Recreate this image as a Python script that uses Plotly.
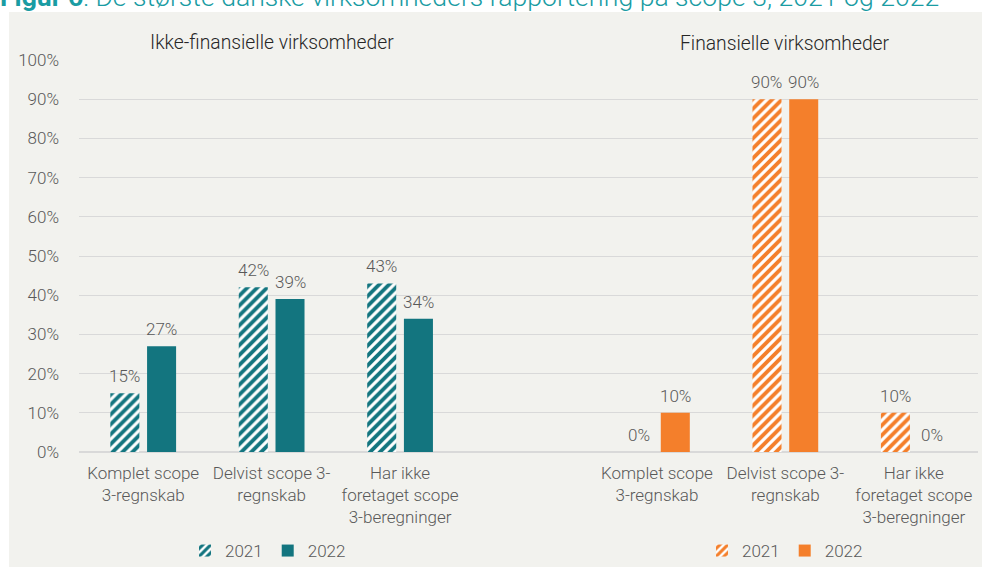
import plotly.graph_objects as go

categories = ["Komplet scope<br>3-regnskab", "Delvist scope 3-<br>regnskab", "Har ikke<br>foretaget scope<br>3-beregninger"]
years = ["2021", "2022"]
nonfin_2021 = [15, 42, 43]
nonfin_2022 = [27, 39, 34]
fin_2021 = [0, 90, 10]
fin_2022 = [10, 90, 0]
group_titles = ["Ikke-finansielle virksomheder", "Finansielle virksomheder"]
title = "<b>Figur 6</b>: De største danske virksomheders rapportering på scope 3, 2021 og 2022"
y_ticks = list(range(0, 101, 10))

TEAL = "#13757f"
ORANGE = "#f47f2b"
GRAY = "#595959"
PANEL = "#f2f2ee"
FONT = "Roboto"
FS = 17

n = len(categories)
x_left = list(range(n))
x_right = [i + n + 1 for i in range(n)]

W = 0.226
OFF21 = -0.256
OFF22 = 0.03

fig = go.Figure()
annotations = []

def add(xs, vals, color, patterned, legend, name):
    marker = dict(color=color, line=dict(width=0))
    if patterned:
        marker["pattern"] = dict(shape="/", fgcolor=color, bgcolor="white", size=7,
                                 solidity=0.55, fillmode="replace", fgopacity=1)
    off = OFF21 if patterned else OFF22
    fig.add_trace(go.Bar(
        x=xs, y=vals, name=name, legend=legend,
        width=W, offset=off, marker=marker,
    ))
    for xv, v in zip(xs, vals):
        annotations.append(dict(
            text=f"{v}%", x=xv + off + W / 2, y=v, xref="x", yref="y",
            xanchor="center", yanchor="bottom", yshift=5, showarrow=False,
            font=dict(family=FONT, size=FS, color=GRAY, weight=300)))

add(x_left, nonfin_2021, TEAL, True, "legend", years[0])
add(x_left, nonfin_2022, TEAL, False, "legend", years[1])
add(x_right, fin_2021, ORANGE, True, "legend2", years[0])
add(x_right, fin_2022, ORANGE, False, "legend2", years[1])

legend_common = dict(orientation="h", yanchor="middle", xanchor="center", y=1 - (551 - 60) / 392,
                     font=dict(family=FONT, size=FS, color=GRAY, weight=300),
                     bgcolor="rgba(0,0,0,0)", itemwidth=30, traceorder="normal")

annotations += [
    dict(text=title, xref="paper", yref="paper", x=(-2 - 79) / 899, y=1 + (60 - 14) / 392,
         xanchor="left", yanchor="bottom", showarrow=False,
         font=dict(family=FONT, size=26.6, color="#1a9ca3", weight=300)),
    dict(text=group_titles[0], xref="x", yref="paper", x=(x_left[0] + x_left[-1]) / 2, y=1 + (60 - 42) / 392,
         xanchor="center", yanchor="middle", showarrow=False,
         font=dict(family=FONT, size=19.3, color="#262626", weight=300)),
    dict(text=group_titles[1], xref="x", yref="paper", x=(x_right[0] + x_right[-1]) / 2, y=1 + (60 - 43) / 392,
         xanchor="center", yanchor="middle", showarrow=False,
         font=dict(family=FONT, size=19.3, color="#262626", weight=300)),
]

fig.update_layout(
    width=982, height=567,
    margin=dict(l=79, r=4, t=60, b=115, autoexpand=False),
    paper_bgcolor="white", plot_bgcolor=PANEL,
    barmode="overlay",
    showlegend=True,
    legend=dict(x=(268 - 79) / 899, **legend_common),
    legend2=dict(x=(785 - 79) / 899, **legend_common),
    font=dict(family=FONT, color=GRAY, weight=300),
    shapes=[dict(type="rect", xref="paper", yref="paper",
                 x0=(9 - 79) / 899, x1=(990 - 79) / 899,
                 y0=1 - (575 - 60) / 392, y1=1 + (60 - 12) / 392,
                 fillcolor=PANEL, line=dict(width=0), layer="below")],
    annotations=annotations,
)

fig.update_xaxes(
    range=[-0.5, 2 * n + 0.5],
    tickvals=x_left + x_right, ticktext=categories + categories,
    tickfont=dict(family=FONT, size=FS, color=GRAY, weight=300),
    showgrid=False, zeroline=False, showline=False, ticks="",
    ticklabelstandoff=9, automargin=False, fixedrange=True,
)
fig.update_yaxes(
    range=[0, 100], tickvals=y_ticks, ticktext=[f"{v}%" for v in y_ticks],
    tickfont=dict(family=FONT, size=FS, color=GRAY, weight=300),
    showgrid=True, gridcolor="#d9d9d9", gridwidth=1,
    zeroline=True, zerolinecolor="#d9d9d9", zerolinewidth=2,
    showline=False, ticks="", ticklabelstandoff=19, automargin=False,
)

fig.write_html("out.html", config={"displayModeBar": False},
               post_script="document.body.style.margin='0';")
